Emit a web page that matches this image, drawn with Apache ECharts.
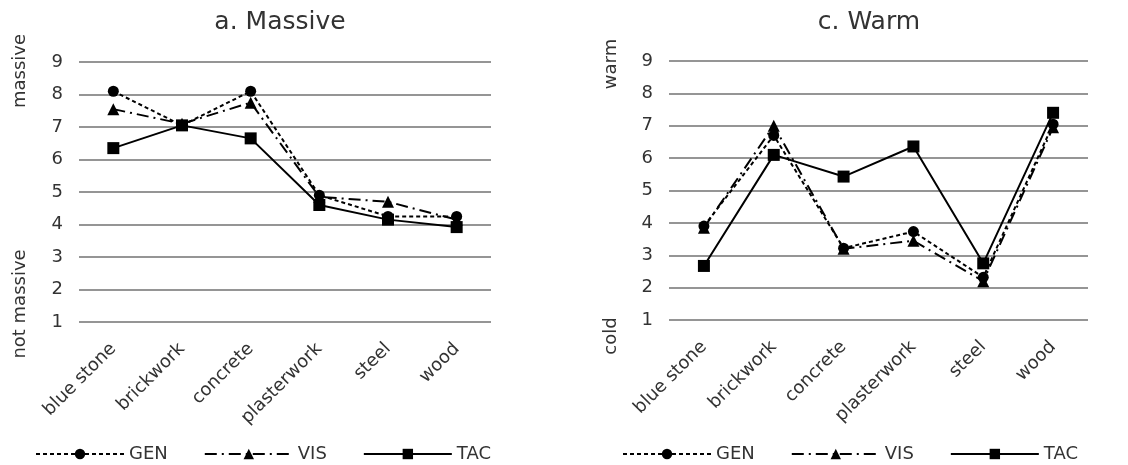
<!DOCTYPE html>
<html>
<head>
<meta charset="utf-8">
<script src="https://cdn.jsdelivr.net/npm/echarts@6/dist/echarts.min.js"></script>
<style>
html,body{margin:0;padding:0;background:#fff;}
#chart{width:1128px;height:465px;}
</style>
</head>
<body>
<div id="chart"></div>
<script>
const categories = ['blue stone', 'brickwork', 'concrete', 'plasterwork', 'steel', 'wood'];
const yTicks = [1, 2, 3, 4, 5, 6, 7, 8, 9];
const seriesNames = ['GEN', 'VIS', 'TAC'];

const massiveGEN = [8.1, 7.05, 8.1, 4.9, 4.25, 4.25];
const massiveVIS = [7.55, 7.1, 7.75, 4.85, 4.7, 4.15];
const massiveTAC = [6.35, 7.05, 6.65, 4.6, 4.15, 3.92];

const warmGEN = [3.9, 6.7, 3.22, 3.73, 2.32, 7.05];
const warmVIS = [3.85, 7.0, 3.2, 3.45, 2.2, 6.95];
const warmTAC = [2.67, 6.1, 5.43, 6.36, 2.75, 7.4];

const FONT = 'DejaVu Sans';
const TXT = '#333';

const styles = {
  GEN: { symbol: 'circle', symbolSize: 11, type: [4, 3] },
  VIS: { symbol: 'triangle', symbolSize: 12, type: [12, 5, 2, 5] },
  TAC: { symbol: 'rect', symbolSize: 12, type: 'solid' }
};

function mkSeries(name, data, idx) {
  const s = styles[name];
  return {
    name: name, type: 'line', data: data,
    xAxisIndex: idx, yAxisIndex: idx,
    symbol: s.symbol, symbolSize: s.symbolSize,
    itemStyle: { color: '#000' },
    lineStyle: { color: '#000', width: 2, type: s.type },
    emphasis: { disabled: true },
    animation: false
  };
}

function xAx(idx) {
  return {
    type: 'category', gridIndex: idx, data: categories, boundaryGap: true,
    axisLine: { show: false }, axisTick: { show: false },
    axisLabel: { rotate: 45, fontSize: 18, fontFamily: FONT, color: TXT, margin: 24, interval: 0 }
  };
}
function yAx(idx) {
  return {
    type: 'value', gridIndex: idx, min: yTicks[0], max: yTicks[yTicks.length - 1], interval: 1,
    axisLine: { show: false }, axisTick: { show: false },
    axisLabel: { fontSize: 18, fontFamily: FONT, color: TXT, margin: 16 },
    splitLine: { lineStyle: { color: '#959595', width: 2 } }
  };
}
function legend(left) {
  return {
    data: seriesNames, left: left, top: 445, padding: 0, itemWidth: 88, itemHeight: 13, itemGap: 36,
    textStyle: { fontSize: 18, fontFamily: FONT, color: TXT }, selectedMode: false
  };
}
function vText(str, x, y) {
  return {
    type: 'text', x: x, y: y, rotation: Math.PI / 2,
    style: { text: str, fontSize: 18, fontFamily: FONT, fill: TXT, align: 'center', verticalAlign: 'middle' }
  };
}

const chart = echarts.init(document.getElementById('chart'), null, { renderer: 'canvas' });
chart.setOption({
  backgroundColor: '#fff',
  animation: false,
  title: [
    { text: 'a. Massive', left: 275, top: 5, textAlign: 'center', textStyle: { fontSize: 25, fontWeight: 'normal', fontFamily: FONT, color: TXT } },
    { text: 'c. Warm', left: 864, top: 5, textAlign: 'center', textStyle: { fontSize: 25, fontWeight: 'normal', fontFamily: FONT, color: TXT } }
  ],
  grid: [
    { left: 79, right: 637, top: 62, bottom: 143 },
    { left: 669, right: 40, top: 61, bottom: 145 }
  ],
  xAxis: [xAx(0), xAx(1)],
  yAxis: [yAx(0), yAx(1)],
  legend: [legend(35), legend(622)],
  graphic: [
    vText('massive', 20, 71),
    vText('not massive', 20, 304),
    vText('warm', 611, 64),
    vText('cold', 611, 336)
  ],
  series: [
    mkSeries('GEN', massiveGEN, 0),
    mkSeries('VIS', massiveVIS, 0),
    mkSeries('TAC', massiveTAC, 0),
    mkSeries('GEN', warmGEN, 1),
    mkSeries('VIS', warmVIS, 1),
    mkSeries('TAC', warmTAC, 1)
  ]
});
</script>
</body>
</html>
